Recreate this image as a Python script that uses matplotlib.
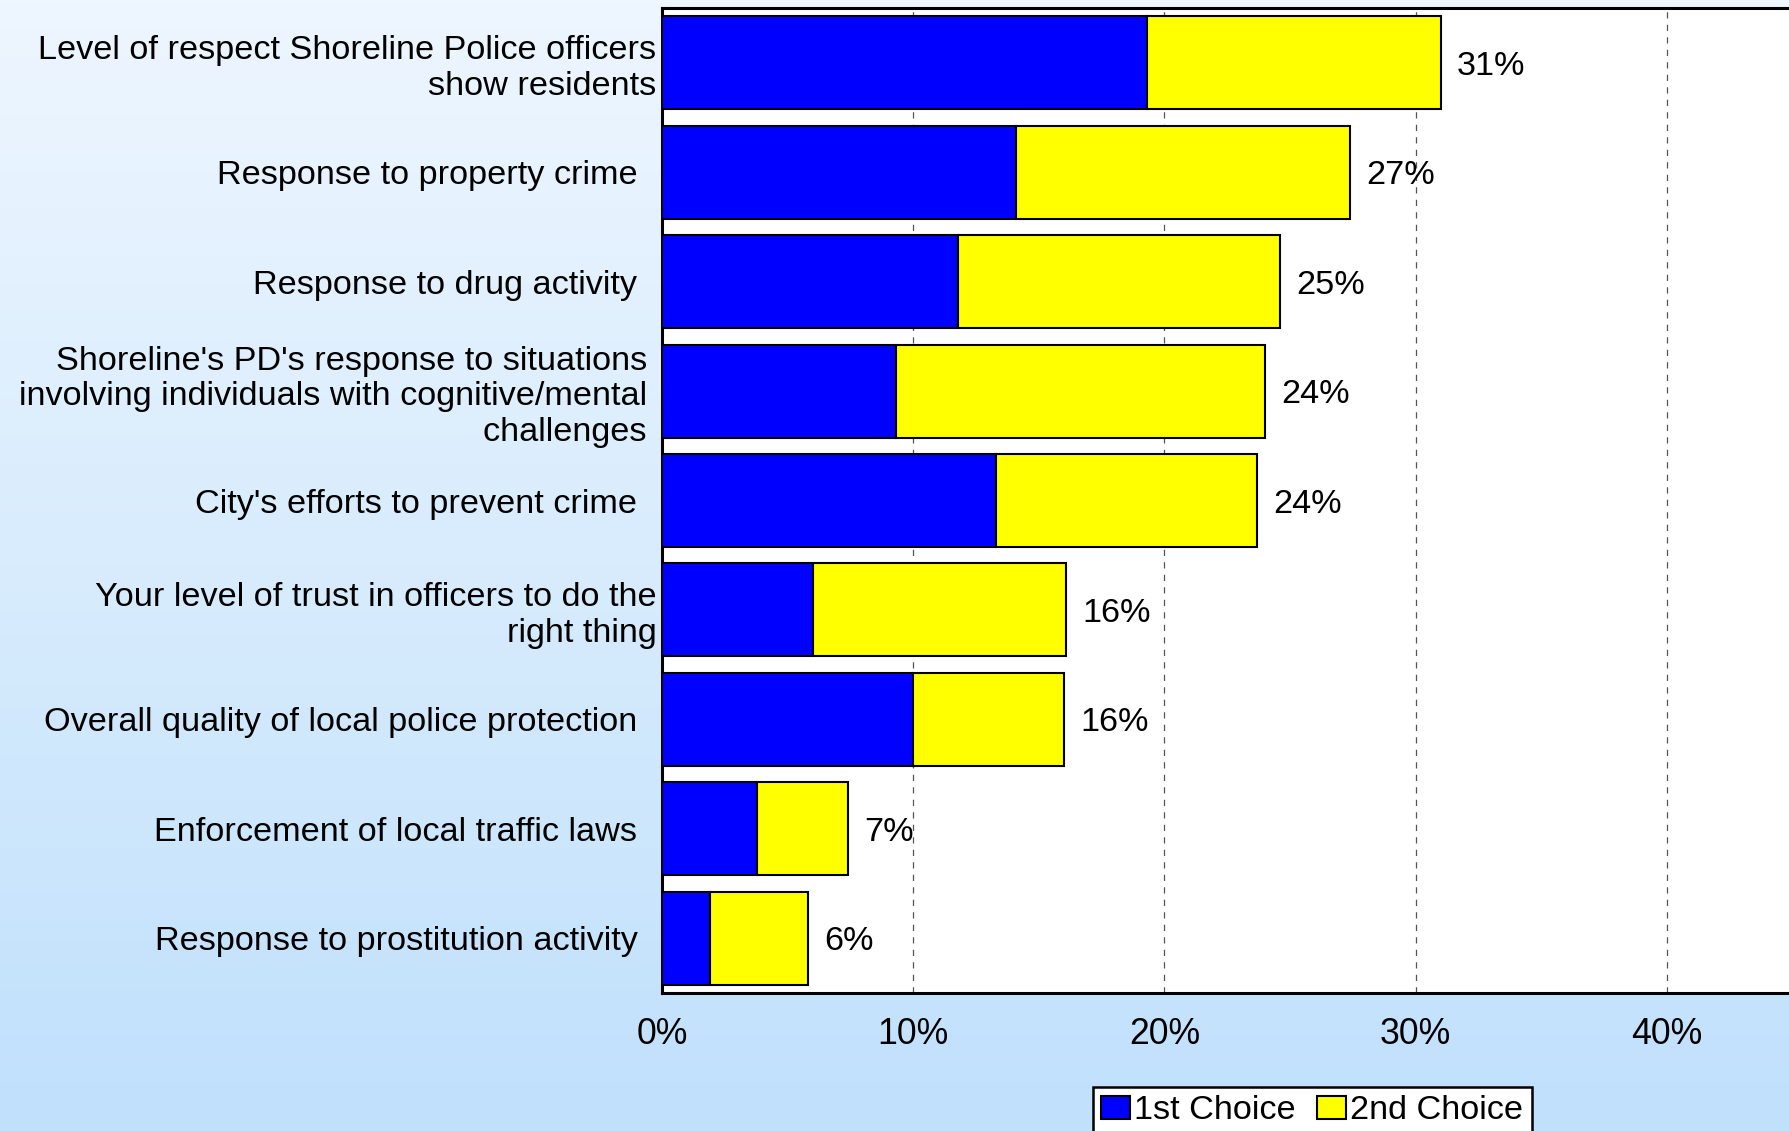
import numpy as np
import matplotlib.pyplot as plt
from matplotlib.colors import LinearSegmentedColormap

plt.rcParams['font.family'] = ['Liberation Sans', 'DejaVu Sans']

categories = [
    "Level of respect Shoreline Police officers\nshow residents",
    "Response to property crime  ",
    "Response to drug activity  ",
    "Shoreline's PD's response to situations \ninvolving individuals with cognitive/mental \nchallenges ",
    "City's efforts to prevent crime  ",
    "Your level of trust in officers to do the\nright thing",
    "Overall quality of local police protection  ",
    "Enforcement of local traffic laws  ",
    "Response to prostitution activity  ",
]
first_choice = [19.3, 14.1, 11.8, 9.3, 13.3, 6.0, 10.0, 3.8, 1.9]
second_choice = [11.7, 13.3, 12.8, 14.7, 10.4, 10.1, 6.0, 3.6, 3.9]
xticks = [0, 10, 20, 30, 40]
xtick_labels = ['0%', '10%', '20%', '30%', '40%']

fs = 24.7

fig = plt.figure(figsize=(17.9, 11.31), dpi=100)

# background gradient
bg = fig.add_axes([0, 0, 1, 1], zorder=-10)
cmap_bg = LinearSegmentedColormap.from_list('bg', ['#eef6ff', '#d8ecfd', '#c0e0fc'])
bg.imshow(np.linspace(0, 1, 256).reshape(-1, 1), cmap=cmap_bg, aspect='auto',
          extent=[0, 1, 0, 1], origin='upper')
bg.set_axis_off()

ax = fig.add_axes([0.3698, 0.122, 0.6302, 0.8709])
ax.set_facecolor('white')
y = np.arange(len(categories))
totals = np.array(first_choice) + np.array(second_choice)

ax.barh(y, first_choice, height=0.85, color='#0000ff', edgecolor='black',
        linewidth=1.5, label='1st Choice', zorder=3)
ax.barh(y, second_choice, left=first_choice, height=0.85, color='#ffff00',
        edgecolor='black', linewidth=1.5, label='2nd Choice', zorder=3)

for yi, t in zip(y, totals):
    ax.text(t + 0.65, yi, f'{t:.0f}%', va='center_baseline', ha='left',
            fontsize=fs, zorder=4)

ax.set_ylim(8.5, -0.5)
ax.set_xlim(0, 44.9)
ax.set_yticks(y)
ax.set_yticklabels(categories, fontsize=fs, linespacing=1.2)
ax.set_xticks(xticks)
ax.set_xticklabels(xtick_labels, fontsize=fs + 1)
ax.tick_params(axis='both', length=0)
ax.tick_params(axis='x', pad=17)
ax.tick_params(axis='y', pad=4)
ax.grid(axis='x', color='#555555', linestyle=(0, (5, 5)), linewidth=0.9, zorder=0)

for side in ['left', 'bottom', 'top']:
    ax.spines[side].set_linewidth(2.2)
    ax.spines[side].set_color('black')
ax.spines['right'].set_visible(False)

leg = fig.legend(loc='upper center', bbox_to_anchor=(0.733, 0.039), ncol=2,
                 fontsize=fs, frameon=True, fancybox=False, edgecolor='black',
                 handlelength=0.85, handleheight=0.65, handletextpad=0.12,
                 columnspacing=0.6, borderpad=0.25, borderaxespad=0)
leg.get_frame().set_linewidth(1.8)
leg.get_frame().set_facecolor('white')
leg.get_frame().set_alpha(1)

fig.savefig('out.png', dpi=100)
